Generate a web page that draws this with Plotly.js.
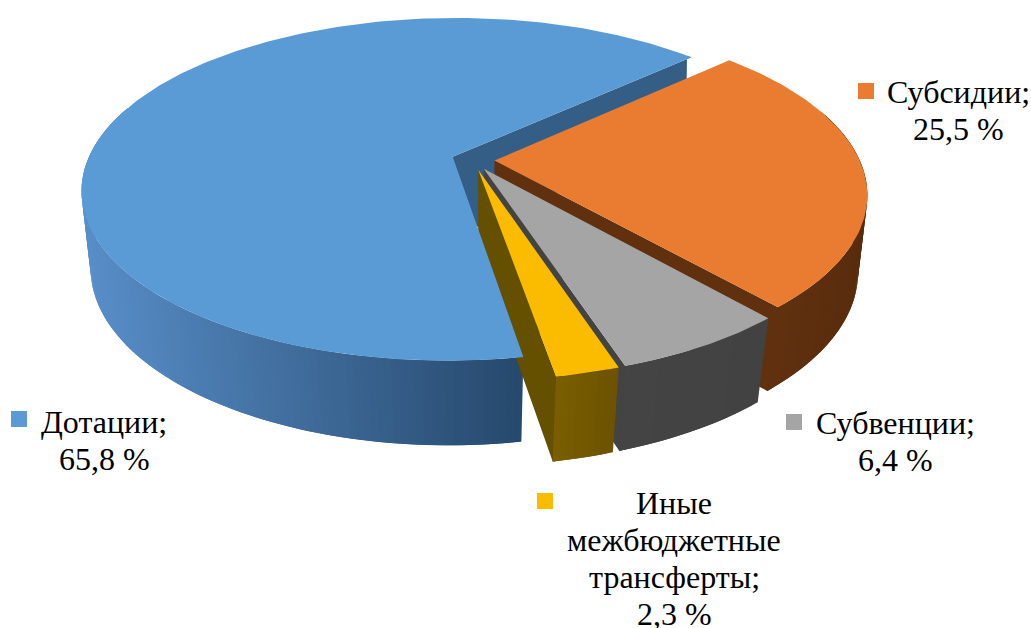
<!DOCTYPE html>
<html><head><meta charset="utf-8">
<script src="https://cdn.plot.ly/plotly-3.0.1.min.js"></script>
<style>html,body{margin:0;padding:0;background:#fff}</style></head>
<body><div id="chart" style="width:1031px;height:628px"></div>
<script>
// ---- data ----
const categories = ['Дотации', 'Субсидии', 'Субвенции', 'Иные межбюджетные трансферты'];
const values = [65.8, 25.5, 6.4, 2.3];
const labelLines = [['Дотации;'], ['Субсидии;'], ['Субвенции;'], ['Иные', 'межбюджетные', 'трансферты;']];
const topColors = ['#5B9BD5', '#E97C30', '#A5A5A5', '#FBBC00'];
const planeColors = ['#355E87', '#60300F', '#434343', '#655000'];
const wallFrom = [[88, 142, 200], [97, 49, 15], [68, 68, 68], [122, 94, 0]];
const wallTo = [[38, 72, 108], [88, 44, 14], [66, 66, 66], [108, 82, 0]];
const labelCenters = [[104, 422], [958, 92], [895, 423], [674, 503]];
const keyBoxes = [[11, 411], [858, 83], [786, 414], [537, 493]];

// ---- projection of the tilted disc onto the page ----
const firstAngle = 170.3, explode = 0.059;
const CX = 473, CY = 160, A = 365, B = 166.4, K = 0.19;
const wallH = 80.5, wallK = 0.05;
const rad = d => d * Math.PI / 180;
function topPt(X, Y) { const w = 1 - K * Y; return [CX + A * X / w, CY + B * Y / w]; }
function bottomPt(X, Y) {
  const p = topPt(X, Y);
  const s = 0.98 - 0.02 * Y;
  return [CX + (p[0] - CX) * s, p[1] + wallH / (1 - wallK * Y)];
}
function rim(a, o) { return [Math.sin(rad(a)) + o[0], -Math.cos(rad(a)) + o[1]]; }
function mix(c1, c2, t) {
  const c = c1.map((v, i) => Math.round(v + (c2[i] - v) * t));
  return 'rgb(' + c.join(',') + ')';
}

function poly(list, pts, color) {
  list.push({
    type: 'scatter', mode: 'lines', fill: 'toself', fillcolor: color,
    x: pts.map(p => p[0]).concat([pts[0][0]]), y: pts.map(p => p[1]).concat([pts[0][1]]),
    line: { color: color, width: 0 },
    hoverinfo: 'skip', showlegend: false
  });
}

// each slice gives its sides and its top face as separate layers
const sideLayers = [], topLayers = [];
let start = firstAngle;
values.forEach((v, i) => {
  const sides = [], face = [];
  const sweep = v / 100 * 360, end = start + sweep, mid = start + sweep / 2;
  const o = [explode * Math.sin(rad(mid)), -explode * Math.cos(rad(mid))];
  const n = Math.max(6, Math.ceil(sweep));
  const rimPts = [];
  for (let j = 0; j <= n; j++) rimPts.push(rim(start + sweep * j / n, o));
  const tp = rimPts.map(p => topPt(p[0], p[1]));
  const bt = rimPts.map(p => bottomPt(p[0], p[1]));
  // flat cut wall on the clockwise edge; it reaches a little under the outer wall to hide the seam
  const apexTop = topPt(o[0], o[1]), apexBottom = bottomPt(o[0], o[1]);
  poly(sides, [apexTop, tp[n], tp[n - 1], bt[n - 1], bt[n], apexBottom], planeColors[i]);
  // curved outer wall, strip by strip; each strip overlaps the next to hide seams
  const front = [];
  tp.forEach((p, j) => { if (rimPts[j][1] > -0.3) front.push(p[0]); });
  const span = [Math.min(...front), Math.max(...front)];
  for (let j = 0; j < n; j++) {
    if (rimPts[j][1] < -0.3 && rimPts[j + 1][1] < -0.3) continue;
    const k = Math.min(n, j + 2);
    const t = Math.min(1, Math.max(0, ((tp[j][0] + tp[j + 1][0]) / 2 - span[0]) / (span[1] - span[0])));
    poly(sides, [tp[j], tp[j + 1], tp[k], bt[k], bt[j + 1], bt[j]], mix(wallFrom[i], wallTo[i], t));
  }
  // top face
  poly(face, [apexTop].concat(tp), topColors[i]);
  sideLayers.push(sides); topLayers.push(face);
  start = end;
});

// The first slice's top face lies over the later slices' inner walls.
const traces = [].concat(
  sideLayers[0],
  sideLayers[1], topLayers[1],
  sideLayers[2], topLayers[2],
  sideLayers[3],
  topLayers[0],
  topLayers[3]
);

// ---- labels and legend keys ----
const LH = 37;
const annotations = [];
const shapes = [];
values.forEach((v, i) => {
  const lines = labelLines[i].concat([String(v).replace('.', ',') + ' %']);
  lines.forEach((t, j) => annotations.push({
    x: labelCenters[i][0], y: labelCenters[i][1] + j * LH, xref: 'x', yref: 'y',
    text: t, showarrow: false, xanchor: 'center', yanchor: 'middle',
    font: { family: '"Liberation Serif", serif', size: 32, color: '#000' }
  }));
  shapes.push({
    type: 'rect', xref: 'x', yref: 'y', layer: 'above',
    x0: keyBoxes[i][0], x1: keyBoxes[i][0] + 16, y0: keyBoxes[i][1], y1: keyBoxes[i][1] + 16,
    fillcolor: topColors[i], line: { width: 0 }
  });
});

Plotly.newPlot('chart', traces, {
  width: 1031, height: 628, margin: { l: 0, r: 0, t: 0, b: 0 },
  paper_bgcolor: '#fff', plot_bgcolor: '#fff', showlegend: false,
  xaxis: { range: [0, 1031], visible: false, fixedrange: true },
  yaxis: { range: [628, 0], visible: false, fixedrange: true },
  annotations: annotations, shapes: shapes
}, { displayModeBar: false, staticPlot: true });
</script></body></html>
